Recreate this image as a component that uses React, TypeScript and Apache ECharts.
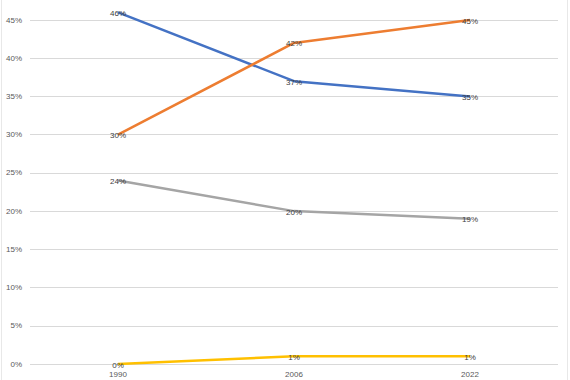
import React, { useEffect, useRef } from "react";
import * as echarts from "echarts";

const categories = ["1990", "2006", "2022"];
const seriesBlue = [46, 37, 35];
const seriesOrange = [30, 42, 45];
const seriesGray = [24, 20, 19];
const seriesYellow = [0, 1, 1];
const colors = ["#4472C4", "#ED7D31", "#A5A5A5", "#FFC000"];

export default function App() {
  const ref = useRef<HTMLDivElement>(null);
  useEffect(() => {
    if (!ref.current) return;
    const chart = echarts.init(ref.current, null, { renderer: "svg" });
    const mk = (data: number[], color: string) => ({
      type: "line",
      data,
      clip: false,
      symbol: "circle",
      symbolSize: 0.5,
      showSymbol: true,
      itemStyle: { color },
      lineStyle: { color, width: 2.5 },
      label: {
        show: true,
        position: "inside",
        offset: [0, 1],
        formatter: (p: any) => p.value + "%",
        color: "#404040",
        textBorderWidth: 0,
        textBorderColor: "transparent",
        fontSize: 8,
        fontFamily: "Liberation Sans",
      },
      emphasis: { disabled: true },
    });
    chart.setOption({
      animation: false,
      backgroundColor: "#ffffff",
      grid: { left: 30, right: 12, top: 20, bottom: 16 },
      xAxis: {
        type: "category",
        data: categories,
        boundaryGap: true,
        axisLine: { show: false },
        axisTick: { show: false },
        axisLabel: {
          color: "#595959",
          fontSize: 8,
          fontFamily: "Liberation Sans",
          margin: 6,
        },
      },
      yAxis: {
        type: "value",
        min: 0,
        max: 45,
        interval: 5,
        axisLine: { show: false },
        axisTick: { show: false },
        splitLine: { lineStyle: { color: "#D9D9D9", width: 1 } },
        axisLabel: {
          formatter: "{value}%",
          color: "#595959",
          fontSize: 8,
          fontFamily: "Liberation Sans",
          margin: 8,
        },
      },
      graphic: [
        { type: "line", shape: { x1: 1.5, y1: 0, x2: 1.5, y2: 380 }, style: { stroke: "#E8E8E8", lineWidth: 1 } },
        { type: "line", shape: { x1: 567.5, y1: 0, x2: 567.5, y2: 380 }, style: { stroke: "#E8E8E8", lineWidth: 1 } },
      ],
      series: [
        mk(seriesBlue, colors[0]),
        mk(seriesOrange, colors[1]),
        mk(seriesGray, colors[2]),
        mk(seriesYellow, colors[3]),
      ],
    });
    return () => chart.dispose();
  }, []);
  return <div ref={ref} style={{ width: 570, height: 380, position: "fixed", left: 0, top: 0 }} />;
}
